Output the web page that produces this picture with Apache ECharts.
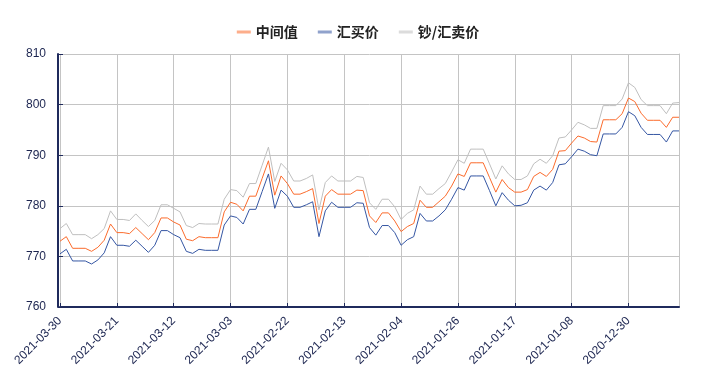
<!DOCTYPE html>
<html>
<head>
<meta charset="utf-8">
<script src="https://cdn.jsdelivr.net/npm/echarts@6/dist/echarts.min.js"></script>
<style>
  html, body { margin: 0; padding: 0; background: #fff; }
  #main { width: 716px; height: 377px; }
</style>
</head>
<body>
<div id="main"></div>
<script>
const dates = [
  '2021-03-30', '2021-03-29', '2021-03-28', '2021-03-27', '2021-03-26', '2021-03-25', '2021-03-24', '2021-03-23', '2021-03-22',
  '2021-03-21', '2021-03-20', '2021-03-19', '2021-03-18', '2021-03-17', '2021-03-16', '2021-03-15', '2021-03-14', '2021-03-13',
  '2021-03-12', '2021-03-11', '2021-03-10', '2021-03-09', '2021-03-08', '2021-03-07', '2021-03-06', '2021-03-05', '2021-03-04',
  '2021-03-03', '2021-03-02', '2021-03-01', '2021-02-28', '2021-02-27', '2021-02-26', '2021-02-25', '2021-02-24', '2021-02-23',
  '2021-02-22', '2021-02-21', '2021-02-20', '2021-02-19', '2021-02-18', '2021-02-17', '2021-02-16', '2021-02-15', '2021-02-14',
  '2021-02-13', '2021-02-12', '2021-02-11', '2021-02-10', '2021-02-09', '2021-02-08', '2021-02-07', '2021-02-06', '2021-02-05',
  '2021-02-04', '2021-02-03', '2021-02-02', '2021-02-01', '2021-01-31', '2021-01-30', '2021-01-29', '2021-01-28', '2021-01-27',
  '2021-01-26', '2021-01-25', '2021-01-24', '2021-01-23', '2021-01-22', '2021-01-21', '2021-01-20', '2021-01-19', '2021-01-18',
  '2021-01-17', '2021-01-16', '2021-01-15', '2021-01-14', '2021-01-13', '2021-01-12', '2021-01-11', '2021-01-10', '2021-01-09',
  '2021-01-08', '2021-01-07', '2021-01-06', '2021-01-05', '2021-01-04', '2021-01-03', '2021-01-02', '2021-01-01', '2020-12-31',
  '2020-12-30', '2020-12-29', '2020-12-28', '2020-12-27', '2020-12-26', '2020-12-25', '2020-12-24', '2020-12-23', '2020-12-22'
];

// 中间值
const midRate = [
  773.0, 773.9, 771.6, 771.6, 771.6, 771.0, 771.8, 773.2, 776.4,
  774.7, 774.7, 774.5, 775.7, 774.5, 773.3, 774.7, 777.6, 777.6,
  776.8, 776.2, 773.4, 773.1, 773.9, 773.7, 773.7, 773.7, 778.8,
  780.7, 780.3, 779.0, 781.9, 781.9, 785.4, 788.9, 782.1, 785.9,
  784.4, 782.3, 782.3, 782.8, 783.4, 776.5, 781.9, 783.2, 782.3,
  782.3, 782.3, 783.1, 783.0, 778.0, 776.7, 778.6, 778.6, 777.0,
  774.9, 775.9, 776.5, 781.1, 779.7, 779.7, 780.8, 781.9, 783.9,
  786.3, 785.8, 788.5, 788.5, 788.5, 785.6, 782.7, 785.2, 783.6,
  782.7, 782.7, 783.2, 785.8, 786.6, 785.8, 787.2, 790.8, 790.9,
  792.4, 793.8, 793.4, 792.7, 792.6, 797.0, 797.0, 797.0, 798.2,
  801.3, 800.6, 798.3, 796.9, 796.9, 796.9, 795.5, 797.5, 797.5
];

// 汇买价
const buyRate = [
  770.5, 771.4, 769.1, 769.1, 769.1, 768.5, 769.3, 770.7, 773.9,
  772.2, 772.2, 772.0, 773.2, 772.0, 770.8, 772.2, 775.1, 775.1,
  774.3, 773.7, 771.0, 770.6, 771.4, 771.2, 771.2, 771.2, 776.2,
  778.0, 777.7, 776.4, 779.3, 779.3, 782.8, 786.3, 779.5, 783.1,
  781.9, 779.7, 779.7, 780.2, 780.8, 773.9, 779.0, 780.7, 779.7,
  779.7, 779.7, 780.6, 780.5, 775.7, 774.2, 776.1, 776.1, 774.7,
  772.2, 773.3, 773.9, 778.5, 777.0, 777.0, 778.0, 779.2, 781.3,
  783.6, 783.1, 785.9, 785.9, 785.9, 783.0, 780.0, 782.6, 781.1,
  780.0, 780.1, 780.6, 783.1, 783.9, 783.1, 784.6, 788.1, 788.3,
  789.7, 791.2, 790.8, 790.1, 789.9, 794.2, 794.2, 794.2, 795.5,
  798.6, 797.8, 795.5, 794.1, 794.1, 794.1, 792.6, 794.8, 794.8
];

// 钞/汇卖价
const sellRate = [
  775.5, 776.5, 774.3, 774.3, 774.3, 773.5, 774.3, 775.5, 779.0,
  777.3, 777.3, 777.1, 778.4, 777.1, 775.9, 777.1, 780.2, 780.2,
  779.5, 778.8, 776.1, 775.7, 776.5, 776.4, 776.4, 776.4, 781.3,
  783.2, 783.0, 781.7, 784.4, 784.4, 788.0, 791.6, 784.8, 788.4,
  787.1, 784.9, 784.9, 785.4, 786.1, 779.2, 784.6, 785.9, 784.9,
  784.9, 784.9, 785.8, 785.6, 780.6, 779.3, 781.3, 781.3, 779.8,
  777.3, 778.5, 779.2, 783.9, 782.3, 782.3, 783.4, 784.4, 786.7,
  789.1, 788.4, 791.2, 791.2, 791.2, 788.3, 785.3, 787.9, 786.3,
  785.2, 785.2, 785.9, 788.3, 789.2, 788.4, 789.9, 793.4, 793.6,
  795.0, 796.5, 796.0, 795.3, 795.3, 799.8, 799.8, 799.8, 801.1,
  804.3, 803.4, 801.0, 799.8, 799.8, 799.8, 798.2, 800.3, 800.4
];

const navy = '#1f2a5c';
const gridGrey = '#c4c4c4';

const chart = echarts.init(document.getElementById('main'));

function lineSeries(name, data, color) {
  return {
    name: name,
    type: 'line',
    data: data,
    symbol: 'none',
    lineStyle: { color: color, width: 1 },
    itemStyle: { color: color },
    emphasis: { disabled: true }
  };
}

const option = {
  animation: false,
  textStyle: { fontFamily: 'Liberation Sans' },
  legend: {
    top: 20,
    left: 'center',
    icon: 'rect',
    itemWidth: 14,
    itemHeight: 3,
    itemGap: 20,
    itemStyle: { opacity: 0.55 },
    textStyle: {
      fontFamily: 'Noto Sans CJK SC',
      fontSize: 14,
      fontWeight: 'bold',
      color: '#222'
    },
    data: ['中间值', '汇买价', '钞/汇卖价']
  },
  grid: {
    left: 60,
    right: 37,
    top: 54,
    bottom: 70,
    outerBoundsMode: 'none'
  },
  xAxis: {
    type: 'category',
    data: dates,
    boundaryGap: false,
    axisLine: { lineStyle: { color: navy, width: 2 } },
    axisTick: { inside: true, length: 4, interval: 8, lineStyle: { color: navy } },
    axisLabel: {
      interval: 8,
      rotate: 45,
      margin: 12,
      fontSize: 12,
      color: '#1c2550'
    },
    splitLine: { show: true, interval: 8, lineStyle: { color: gridGrey } }
  },
  yAxis: [
    {
      type: 'value',
      min: 760,
      max: 810,
      interval: 10,
      offset: 2,
      axisLine: { show: true, lineStyle: { color: navy, width: 2 } },
      axisTick: { show: true, inside: true, length: 5, lineStyle: { color: navy } },
      axisLabel: { fontSize: 12, color: '#1c2550', margin: 12 },
      splitLine: { lineStyle: { color: gridGrey } }
    },
    {
      type: 'value',
      position: 'right',
      min: 760,
      max: 810,
      interval: 10,
      axisLine: { show: true, lineStyle: { color: gridGrey, width: 1 } },
      axisTick: { show: false },
      axisLabel: { show: false },
      splitLine: { show: false }
    }
  ],
  series: [
    lineSeries('中间值', midRate, '#fb6b2c'),
    lineSeries('汇买价', buyRate, '#3556a3'),
    lineSeries('钞/汇卖价', sellRate, '#bfbfbf')
  ]
};

chart.setOption(option);
</script>
</body>
</html>
